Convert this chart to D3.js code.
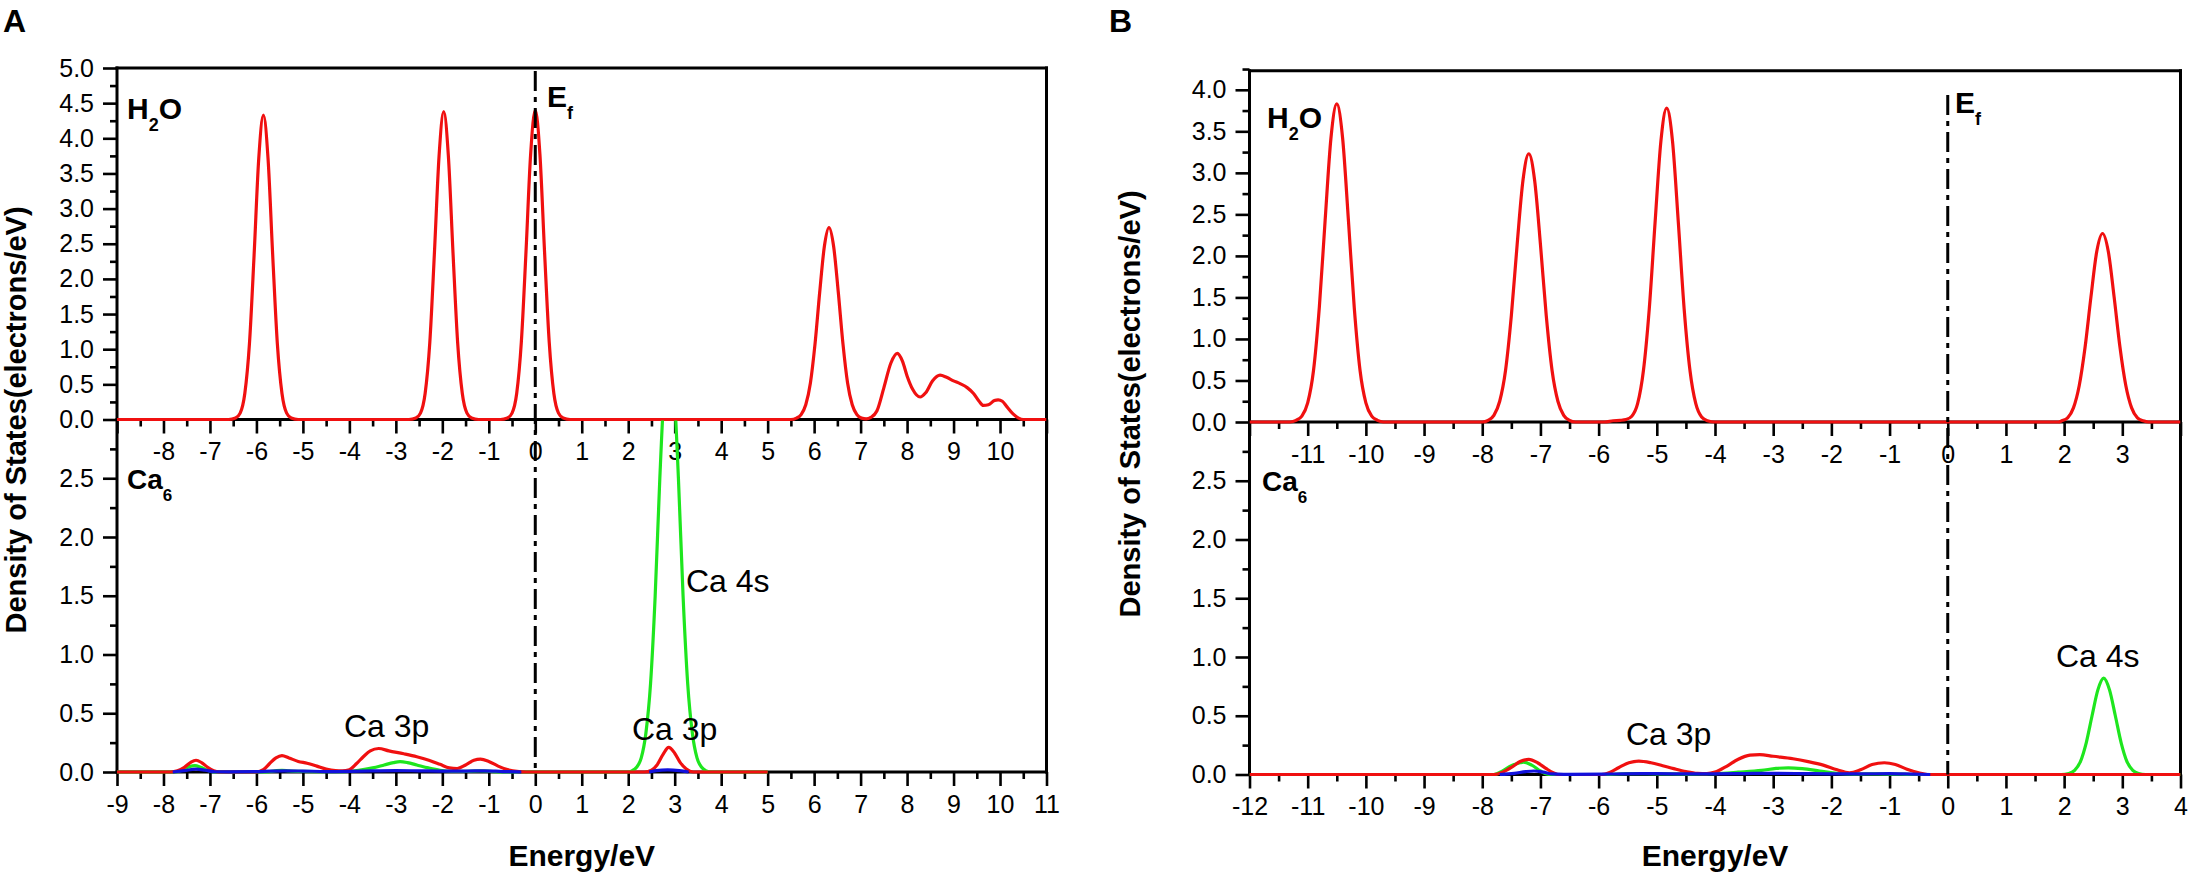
<!DOCTYPE html>
<html>
<head>
<meta charset="utf-8">
<script src="https://cdn.jsdelivr.net/npm/d3@7/dist/d3.min.js"></script>
<style>
  body { margin: 0; background: #fff; }
  svg { display: block; }
  text { font-family: "Liberation Sans", Arial, Helvetica, sans-serif; fill: #000; }
</style>
</head>
<body>
<svg id="chart" width="2189" height="881"></svg>
<script>
// ---------------- DATA ----------------
// Panel A
const A_xDomain = [-9, 11];
const A_upperYDomain = [0, 5];
const A_lowerYDomain = [0, 3];
const A_xTicks = [-9,-8,-7,-6,-5,-4,-3,-2,-1,0,1,2,3,4,5,6,7,8,9,10,11];
const A_upperXLabels = [-8,-7,-6,-5,-4,-3,-2,-1,0,1,2,3,4,5,6,7,8,9,10];
const A_lowerXLabels = [-9,-8,-7,-6,-5,-4,-3,-2,-1,0,1,2,3,4,5,6,7,8,9,10,11];
const A_upperYTicks = [0,0.5,1.0,1.5,2.0,2.5,3.0,3.5,4.0,4.5,5.0];
const A_lowerYTicks = [0,0.5,1.0,1.5,2.0,2.5];

// H2O total DOS (panel A, red)
const A_H2O = [
  [-9,0],[-6.6,0],[-6.45,0.02],[-6.35,0.09],[-6.25,0.37],[-6.15,1.08],[-6.05,2.34],[-5.95,3.71],[-5.85,4.33],
  [-5.75,3.71],[-5.65,2.34],[-5.55,1.08],[-5.45,0.37],[-5.35,0.09],[-5.25,0.02],[-5.1,0],
  [-2.72,0],[-2.57,0.02],[-2.47,0.09],[-2.37,0.37],[-2.27,1.09],[-2.17,2.37],[-2.07,3.75],[-1.97,4.38],
  [-1.87,3.75],[-1.77,2.37],[-1.67,1.09],[-1.57,0.37],[-1.47,0.09],[-1.37,0.02],[-1.22,0],
  [-0.75,0],[-0.6,0.02],[-0.5,0.09],[-0.4,0.37],[-0.3,1.10],[-0.2,2.38],[-0.1,3.77],[0,4.40],
  [0.1,3.77],[0.2,2.38],[0.3,1.10],[0.4,0.37],[0.5,0.09],[0.6,0.02],[0.75,0],
  [5.5,0],[5.62,0.02],[5.72,0.07],[5.82,0.21],[5.92,0.52],[6.02,1.08],[6.12,1.81],[6.22,2.46],[6.32,2.73],
  [6.42,2.46],[6.52,1.81],[6.62,1.08],[6.72,0.52],[6.82,0.21],[6.92,0.07],[7.02,0.02],[7.12,0.01],
  [7.22,0.03],[7.35,0.12],[7.5,0.45],[7.65,0.8],[7.79,0.94],[7.9,0.83],[8.0,0.62],[8.12,0.43],[8.28,0.32],
  [8.4,0.38],[8.55,0.55],[8.71,0.63],[8.85,0.6],[9.0,0.55],[9.14,0.51],[9.3,0.45],[9.43,0.37],[9.55,0.26],
  [9.64,0.2],[9.75,0.21],[9.88,0.27],[9.96,0.28],[10.05,0.26],[10.15,0.18],[10.28,0.08],[10.4,0.02],[10.5,0],[11,0]
];
// Ca6 projected DOS (panel A)
const A_CaRed = [
  [-9,0],[-7.85,0],[-7.7,0.01],[-7.55,0.04],[-7.42,0.08],[-7.3,0.10],[-7.18,0.08],[-7.05,0.04],[-6.92,0.01],[-6.8,0],
  [-6.0,0],[-5.85,0.02],[-5.72,0.07],[-5.58,0.12],[-5.45,0.14],[-5.3,0.12],[-5.1,0.09],[-4.91,0.075],[-4.7,0.05],
  [-4.5,0.025],[-4.3,0.012],[-4.15,0.01],[-4.0,0.02],[-3.85,0.07],[-3.7,0.13],[-3.55,0.18],[-3.37,0.20],[-3.15,0.18],
  [-2.83,0.155],[-2.55,0.13],[-2.29,0.10],[-2.05,0.065],[-1.85,0.035],[-1.68,0.03],[-1.5,0.06],[-1.32,0.10],
  [-1.18,0.11],[-1.0,0.09],[-0.8,0.05],[-0.6,0.02],[-0.35,0.003],[-0.2,0],
  [2.35,0],[2.5,0.015],[2.62,0.06],[2.75,0.15],[2.87,0.21],[3.0,0.16],[3.12,0.08],[3.25,0.025],[3.4,0],[5,0]
];
const A_CaGreen = [
  [-9,0],[-7.8,0],[-7.6,0.015],[-7.45,0.045],[-7.32,0.055],[-7.2,0.04],[-7.05,0.015],[-6.9,0],
  [-5.8,0],[-5.6,0.01],[-5.45,0.015],[-5.3,0.01],[-5.0,0.005],[-4.5,0.002],[-4.1,0.004],[-3.8,0.015],
  [-3.5,0.035],[-3.25,0.06],[-3.05,0.08],[-2.91,0.088],[-2.75,0.08],[-2.55,0.06],[-2.3,0.035],[-2.05,0.015],
  [-1.8,0.006],[-1.5,0.005],[-1.2,0.01],[-0.9,0.004],[-0.5,0],
  [2.0,0],[2.08,0.01],[2.18,0.04],[2.28,0.12],[2.38,0.33],[2.48,0.75],[2.58,1.5],[2.68,2.5],[2.78,3.3],[2.88,3.6],
  [2.98,3.3],[3.08,2.5],[3.18,1.5],[3.28,0.75],[3.38,0.33],[3.48,0.12],[3.58,0.04],[3.68,0.01],[3.78,0],[5,0]
];
const A_CaBlue = [
  [-7.8,0],[-7.55,0.012],[-7.3,0.025],[-7.1,0.015],[-6.9,0.002],[-6.6,0.001],[-6.0,0.003],[-5.7,0.008],
  [-5.4,0.01],[-5.0,0.008],[-4.5,0.004],[-4.0,0.006],[-3.5,0.01],[-3.0,0.012],[-2.5,0.01],[-2.0,0.008],
  [-1.5,0.008],[-1.1,0.01],[-0.7,0.004],[-0.3,0],[null,null],
  [2.45,0],[2.6,0.012],[2.85,0.018],[3.1,0.012],[3.3,0]
];

// Panel B
const B_xDomain = [-12, 4];
const B_upperYDomain = [0, 4.23];
const B_lowerYDomain = [0, 3];
const B_xTicks = [-12,-11,-10,-9,-8,-7,-6,-5,-4,-3,-2,-1,0,1,2,3,4];
const B_upperXLabels = [-11,-10,-9,-8,-7,-6,-5,-4,-3,-2,-1,0,1,2,3];
const B_lowerXLabels = [-12,-11,-10,-9,-8,-7,-6,-5,-4,-3,-2,-1,0,1,2,3,4];
const B_upperYTicks = [0,0.5,1.0,1.5,2.0,2.5,3.0,3.5,4.0];
const B_lowerYTicks = [0,0.5,1.0,1.5,2.0,2.5];

const B_H2O = [
  [-12,0],[-11.3,0],[-11.2,0.02],[-11.1,0.07],[-11.0,0.23],[-10.9,0.62],[-10.8,1.38],[-10.7,2.43],[-10.6,3.42],
  [-10.5,3.83],[-10.4,3.42],[-10.3,2.43],[-10.2,1.38],[-10.1,0.62],[-10.0,0.23],[-9.9,0.07],[-9.8,0.02],[-9.7,0],
  [-8.0,0],[-7.9,0.02],[-7.8,0.08],[-7.7,0.25],[-7.6,0.62],[-7.5,1.28],[-7.4,2.14],[-7.3,2.91],[-7.2,3.23],
  [-7.1,2.91],[-7.0,2.14],[-6.9,1.28],[-6.8,0.62],[-6.7,0.25],[-6.6,0.08],[-6.5,0.02],[-6.4,0],
  [-5.9,0],[-5.75,0.015],[-5.63,0.02],[-5.53,0.03],[-5.43,0.07],[-5.33,0.22],[-5.23,0.62],[-5.13,1.36],[-5.03,2.40],
  [-4.93,3.38],[-4.83,3.78],[-4.73,3.38],[-4.63,2.40],[-4.53,1.36],[-4.43,0.62],[-4.33,0.22],[-4.23,0.06],[-4.13,0.015],[-4.0,0],
  [1.9,0],[1.96,0.014],[2.06,0.05],[2.16,0.17],[2.26,0.44],[2.36,0.90],[2.46,1.50],[2.56,2.05],[2.66,2.27],
  [2.76,2.05],[2.86,1.50],[2.96,0.90],[3.06,0.44],[3.16,0.17],[3.26,0.05],[3.36,0.014],[3.45,0],[4,0]
];
const B_CaRed = [
  [-12,0],[-7.8,0],[-7.65,0.02],[-7.5,0.06],[-7.35,0.11],[-7.2,0.128],[-7.05,0.1],[-6.9,0.05],[-6.78,0.015],[-6.7,0],
  [-5.95,0],[-5.8,0.02],[-5.65,0.06],[-5.48,0.1],[-5.31,0.114],[-5.1,0.1],[-4.9,0.075],[-4.71,0.05],[-4.5,0.025],
  [-4.3,0.01],[-4.14,0.008],[-4.0,0.02],[-3.8,0.07],[-3.6,0.13],[-3.4,0.165],[-3.23,0.17],[-3.0,0.155],[-2.66,0.134],
  [-2.4,0.11],[-2.14,0.08],[-1.9,0.04],[-1.69,0.015],[-1.5,0.04],[-1.3,0.085],[-1.09,0.10],[-0.9,0.085],
  [-0.7,0.045],[-0.5,0.015],[-0.35,0],[4,0]
];
const B_CaGreen = [
  [-12,0],[-7.8,0],[-7.65,0.03],[-7.5,0.075],[-7.35,0.1],[-7.29,0.105],[-7.15,0.08],[-7.0,0.03],[-6.9,0.005],[-6.8,0],
  [-5.8,0],[-5.5,0.008],[-5.0,0.006],[-4.5,0.004],[-4.0,0.008],[-3.6,0.02],[-3.2,0.035],[-2.95,0.052],[-2.74,0.057],
  [-2.5,0.05],[-2.2,0.03],[-1.9,0.01],[-1.6,0.004],[-1.2,0.006],[-0.8,0.003],[-0.5,0],
  [1.95,0],[2.08,0.009],[2.18,0.036],[2.28,0.11],[2.38,0.27],[2.48,0.50],[2.58,0.72],[2.68,0.82],
  [2.78,0.72],[2.88,0.50],[2.98,0.27],[3.08,0.11],[3.18,0.036],[3.28,0.009],[3.4,0],[4,0]
];
const B_CaBlue = [
  [-7.7,0],[-7.45,0.01],[-7.25,0.025],[-7.11,0.03],[-6.95,0.02],[-6.8,0.005],[-6.6,0.001],[-5.9,0.003],
  [-5.6,0.006],[-5.0,0.007],[-4.5,0.005],[-4.0,0.006],[-3.5,0.008],[-3.0,0.01],[-2.5,0.008],[-2.0,0.006],
  [-1.5,0.006],[-1.0,0.007],[-0.6,0.003],[-0.3,0]
];

// ---------------- LAYOUT / STYLE ----------------
const COLORS = { red: "#f01010", green: "#1ee61e", blue: "#1111dd", axis: "#000" };
const panels = [
  {
    id: "A", letter: "A", letterPos: [3, 32],
    left: 117, right: 1046.5, top: 68, mid: 419.5, bottom: 772,
    xDomain: A_xDomain, upperY: A_upperYDomain, lowerY: A_lowerYDomain,
    xTicks: A_xTicks, upperXLabels: A_upperXLabels, lowerXLabels: A_lowerXLabels,
    upperYTicks: A_upperYTicks, lowerYTicks: A_lowerYTicks,
    upper: [{ data: A_H2O, color: COLORS.red }],
    lower: [{ data: A_CaGreen, color: COLORS.green }, { data: A_CaRed, color: COLORS.red }, { data: A_CaBlue, color: COLORS.blue }],
    efTop: 71,
    h2o: [127, 119], ef: [547, 107], ca6: [127, 489],
    yTitle: [26, 420], xTitleY: 866,
    notes: [["Ca 4s", 686, 592], ["Ca 3p", 344, 737], ["Ca 3p", 632, 740]]
  },
  {
    id: "B", letter: "B", letterPos: [1109, 32],
    left: 1249.5, right: 2180.5, top: 70.7, mid: 422, bottom: 774.5,
    xDomain: B_xDomain, upperY: B_upperYDomain, lowerY: B_lowerYDomain,
    xTicks: B_xTicks, upperXLabels: B_upperXLabels, lowerXLabels: B_lowerXLabels,
    upperYTicks: B_upperYTicks, lowerYTicks: B_lowerYTicks,
    upper: [{ data: B_H2O, color: COLORS.red }],
    lower: [{ data: B_CaGreen, color: COLORS.green }, { data: B_CaRed, color: COLORS.red }, { data: B_CaBlue, color: COLORS.blue }],
    efTop: 95,
    h2o: [1267, 128], ef: [1955, 113], ca6: [1262, 491],
    yTitle: [1140, 404], xTitleY: 866,
    notes: [["Ca 4s", 2056, 667], ["Ca 3p", 1626, 745]]
  }
];

const svg = d3.select("#chart");
const defs = svg.append("defs");

function styleAxis(g, fontSize) {
  g.select(".domain").remove();
  g.selectAll(".tick line").attr("stroke", COLORS.axis).attr("stroke-width", 2.6);
  g.selectAll(".tick text")
    .attr("font-family", '"Liberation Sans", Arial, sans-serif')
    .attr("font-size", fontSize).attr("fill", "#000");
  g.attr("font-family", null).attr("font-size", null);
}

function subText(g, x, y, main, sub, after, size, subSize) {
  const t = g.append("text").attr("x", x).attr("y", y)
    .attr("font-size", size).attr("font-weight", "bold");
  t.append("tspan").text(main);
  t.append("tspan").attr("font-size", subSize).attr("dy", 12).text(sub);
  if (after) t.append("tspan").attr("dy", -12).text(after);
}

panels.forEach(p => {
  const g = svg.append("g");
  const x = d3.scaleLinear().domain(p.xDomain).range([p.left, p.right]);
  const yU = d3.scaleLinear().domain(p.upperY).range([p.mid, p.top]);
  const yL = d3.scaleLinear().domain(p.lowerY).range([p.bottom, p.mid]);

  const xMinor = d3.range(p.xDomain[0] + 0.5, p.xDomain[1], 1);
  const yUMinor = d3.range(0.25, p.upperY[1] + 0.03, 0.5);
  const yLMinor = d3.range(0.25, p.lowerY[1], 0.5);
  const fmtX = labels => d => labels.includes(d) ? String(d) : "";
  const TICK = 25;

  // x axes (middle = upper plot's axis, bottom = lower plot's axis)
  [[p.mid, p.upperXLabels], [p.bottom, p.lowerXLabels]].forEach(([yy, labels]) => {
    const ax = g.append("g").attr("transform", `translate(0,${yy})`)
      .call(d3.axisBottom(x).tickValues(p.xTicks).tickSize(14).tickPadding(9).tickFormat(fmtX(labels)));
    styleAxis(ax, TICK);
    const mn = g.append("g").attr("transform", `translate(0,${yy})`)
      .call(d3.axisBottom(x).tickValues(xMinor).tickSize(7).tickFormat(""));
    styleAxis(mn, TICK);
  });
  // y axes
  [[yU, p.upperYTicks, yUMinor], [yL, p.lowerYTicks, yLMinor]].forEach(([ys, maj, mnr]) => {
    const ax = g.append("g").attr("transform", `translate(${p.left},0)`)
      .call(d3.axisLeft(ys).tickValues(maj).tickSize(14).tickPadding(9).tickFormat(d3.format(".1f")));
    styleAxis(ax, TICK);
    const mn = g.append("g").attr("transform", `translate(${p.left},0)`)
      .call(d3.axisLeft(ys).tickValues(mnr).tickSize(7).tickFormat(""));
    styleAxis(mn, TICK);
  });

  // frame lines
  const frame = [
    [[p.left, p.top], [p.left, p.bottom]],
    [[p.left, p.top], [p.right, p.top]],
    [[p.right, p.top], [p.right, p.bottom]],
    [[p.left, p.mid], [p.right, p.mid]],
    [[p.left, p.bottom], [p.right, p.bottom]]
  ];
  g.selectAll("line.frame").data(frame).enter().append("line")
    .attr("x1", d => d[0][0]).attr("y1", d => d[0][1])
    .attr("x2", d => d[1][0]).attr("y2", d => d[1][1])
    .attr("stroke", COLORS.axis).attr("stroke-width", 3).attr("stroke-linecap", "square");

  // clip paths
  defs.append("clipPath").attr("id", `clipU${p.id}`).append("rect")
    .attr("x", p.left).attr("y", p.top).attr("width", p.right - p.left).attr("height", p.mid - p.top + 3);
  defs.append("clipPath").attr("id", `clipL${p.id}`).append("rect")
    .attr("x", p.left).attr("y", p.mid + 1).attr("width", p.right - p.left).attr("height", p.bottom - p.mid + 2);

  const lineU = d3.line().defined(d => d[1] !== null).x(d => x(d[0])).y(d => yU(d[1])).curve(d3.curveMonotoneX);
  const lineL = d3.line().defined(d => d[1] !== null).x(d => x(d[0])).y(d => yL(d[1])).curve(d3.curveMonotoneX);

  const cu = g.append("g").attr("clip-path", `url(#clipU${p.id})`);
  p.upper.forEach(s => cu.append("path").attr("d", lineU(s.data)).attr("fill", "none")
    .attr("stroke", s.color).attr("stroke-width", 3.2).attr("stroke-linejoin", "round"));
  const cl = g.append("g").attr("clip-path", `url(#clipL${p.id})`);
  p.lower.forEach(s => cl.append("path").attr("d", lineL(s.data)).attr("fill", "none")
    .attr("stroke", s.color).attr("stroke-width", 3.2).attr("stroke-linejoin", "round"));

  // Fermi level dash-dot line
  g.append("line").attr("x1", x(0)).attr("x2", x(0)).attr("y1", p.efTop).attr("y2", p.bottom)
    .attr("stroke", "#000").attr("stroke-width", 3).attr("stroke-dasharray", "20,6,5,6");

  // labels
  g.append("text").attr("x", p.letterPos[0]).attr("y", p.letterPos[1])
    .attr("font-size", 32).attr("font-weight", "bold").text(p.letter);
  subText(g, p.h2o[0], p.h2o[1], "H", "2", "O", 30, 18);
  subText(g, p.ef[0], p.ef[1], "E", "f", null, 30, 18);
  subText(g, p.ca6[0], p.ca6[1], "Ca", "6", null, 28, 17);
  p.notes.forEach(n => g.append("text").attr("x", n[1]).attr("y", n[2])
    .attr("font-size", 32).text(n[0]));

  g.append("text")
    .attr("transform", `translate(${p.yTitle[0]},${p.yTitle[1]}) rotate(-90)`)
    .attr("text-anchor", "middle").attr("font-size", 29).attr("font-weight", "bold")
    .text("Density of States(electrons/eV)");
  g.append("text").attr("x", (p.left + p.right) / 2).attr("y", p.xTitleY)
    .attr("text-anchor", "middle").attr("font-size", 30).attr("font-weight", "bold")
    .text("Energy/eV");
});
</script>
</body>
</html>
